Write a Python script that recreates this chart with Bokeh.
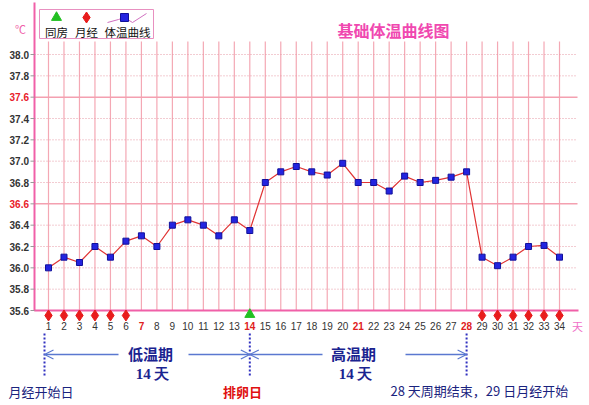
from bokeh.plotting import figure
from bokeh.models import ColumnDataSource, Range1d, Arrow, OpenHead
from bokeh.core.properties import value
from bokeh.embed import file_html
from bokeh.resources import INLINE

# ---------------- data ----------------
days = list(range(1, 35))
temps = [36.00, 36.10, 36.05, 36.20, 36.10, 36.25, 36.30, 36.20, 36.40, 36.45,
         36.40, 36.30, 36.45, 36.35, 36.80, 36.90, 36.95, 36.90, 36.87, 36.98,
         36.80, 36.80, 36.72, 36.86, 36.80, 36.82, 36.85, 36.90, 36.10, 36.02,
         36.10, 36.20, 36.21, 36.10]
menses_days = [1, 2, 3, 4, 5, 6, 29, 30, 31, 32, 33, 34]
sex_days = [14]
y_ticks = [35.6, 35.8, 36.0, 36.2, 36.4, 36.6, 36.8, 37.0, 37.2, 37.4, 37.6, 37.8, 38.0]
y_tick_labels = ["%.1f" % v for v in y_ticks]
red_y_labels = ["36.6", "37.6"]
red_days = [7, 14, 21, 28]
title_text = "基础体温曲线图"
legend_labels = ["同房", "月经", "体温曲线"]
low_phase = ["低温期", "14 天"]
high_phase = ["高温期", "14 天"]
note_start = "月经开始日"
note_ovul = "排卵日"
note_end = "28 天周期结束，29 日月经开始"
unit_x = "天"
unit_y = "℃"

# ---------------- geometry ----------------
W, H = 585, 401
ORG = 0               # screen position of canvas top-left
PXD = 15.485          # px per day
PYD = 106.667         # px per degree
X0 = 1 - (48 - ORG) / PXD
X1 = X0 + W / PXD
Y1 = 38.0 + (54 - ORG) / PYD
Y0 = Y1 - H / PYD


def dx(sx):
    return X0 + (sx - ORG) / PXD


def dy(sy):
    return Y1 - (sy - ORG) / PYD


p = figure(width=W, height=H, x_range=Range1d(X0, X1), y_range=Range1d(Y0, Y1),
           output_backend="svg", toolbar_location=None, title=None,
           x_axis_location=None, y_axis_location=None, min_border=0,
           outline_line_color=None, background_fill_color="white")
p.grid.visible = False

CJK = value("Noto Sans CJK SC")
SANS = value("Liberation Sans")

# ---------------- grid ----------------
p.segment(x0=days, y0=[35.6] * len(days), x1=days, y1=[dy(41)] * len(days),
          line_color="#f4a8b4", line_width=1.2)

hy_norm = [v for v, l in zip(y_ticks[1:], y_tick_labels[1:]) if l not in red_y_labels]
hy_red = [v for v, l in zip(y_ticks, y_tick_labels) if l in red_y_labels]
p.segment(x0=[dx(34)] * len(hy_norm), y0=hy_norm, x1=[dx(577)] * len(hy_norm), y1=hy_norm,
          line_color="#e698a4", line_width=1, line_dash="1 2")
p.segment(x0=[dx(34)] * len(hy_red), y0=hy_red, x1=[dx(577)] * len(hy_red), y1=hy_red,
          line_color="#f4a0b0", line_width=1.5)

# axes lines
p.line(x=[dx(34), dx(34), dx(578)], y=[dy(2), 35.6, 35.6], line_color="#f060a8", line_width=2)
# y tick marks
p.segment(x0=[dx(30)] * len(y_ticks), y0=y_ticks, x1=[dx(34)] * len(y_ticks), y1=y_ticks,
          line_color="#999999", line_width=1)

# y labels
ycol = ["#e8202a" if l in red_y_labels else "#333333" for l in y_tick_labels]
p.text(x=[dx(28.5)] * len(y_ticks), y=y_ticks, text=y_tick_labels, text_color=ycol,
       text_font=SANS, text_font_size="10px", text_font_style="bold",
       text_align="right", text_baseline="middle")
p.text(x=[dx(20)], y=[dy(28)], text=[unit_y], text_color="#f060a8", text_font=CJK,
       text_font_size="11px", text_align="center", text_baseline="middle")

# x labels
xcol = ["#e02020" if d in red_days else "#333333" for d in days]
xsty = ["bold" if d in red_days else "normal" for d in days]
p.text(x=days, y=[dy(325)] * len(days), text=[str(d) for d in days], text_color=xcol,
       text_font_style=xsty, text_font=SANS, text_font_size="10px",
       text_align="center", text_baseline="middle")
p.text(x=[dx(577)], y=[dy(325)], text=[unit_x], text_color="#f070c8", text_font=CJK,
       text_font_size="11px", text_align="center", text_baseline="middle")

# ---------------- data marks ----------------
src = ColumnDataSource(dict(day=days, temp=temps))
p.line("day", "temp", source=src, line_color="#e03434", line_width=1.2)
p.scatter("day", "temp", source=src, marker="square", size=6,
          fill_color="#2424e0", line_color="#10109a", line_width=1)

p.scatter(x=menses_days, y=[dy(315)] * len(menses_days), marker="diamond", size=11,
          fill_color="#e81c1c", line_color="#e81c1c")
p.scatter(x=sex_days, y=[dy(314)] * len(sex_days), marker="triangle", size=10,
          fill_color="#22c022", line_color="#22c022")

# ---------------- legend ----------------
p.quad(left=[dx(39)], right=[dx(153)], top=[dy(9)], bottom=[dy(38)],
       fill_color="white", line_color="#e890c0", line_width=1)
p.scatter(x=[dx(56)], y=[dy(17)], marker="triangle", size=10, fill_color="#22c022", line_color="#22c022")
p.scatter(x=[dx(86)], y=[dy(17)], marker="diamond", size=11, fill_color="#e81c1c", line_color="#e81c1c")
p.line(x=[dx(107), dx(118), dx(124), dx(132), dx(146)],
       y=[dy(22), dy(19), dy(17), dy(22), dy(13)], line_color="#d070c0", line_width=1)
p.scatter(x=[dx(124)], y=[dy(17)], marker="square", size=8, fill_color="#2424e0", line_color="#10109a")
p.text(x=[dx(56), dx(86), dx(127)], y=[dy(31)] * 3, text=legend_labels, text_color="#111111",
       text_font=CJK, text_font_size="11.5px", text_align="center", text_baseline="middle")

# title
p.text(x=[dx(393)], y=[dy(29)], text=[title_text], text_color="#f048b0", text_font=CJK,
       text_font_size="16px", text_font_style="bold", text_align="center", text_baseline="middle")

# ---------------- phase annotations ----------------
mark_x = [1 - 4 / PXD, 14, 28]
p.segment(x0=mark_x, y0=[dy(333)] * 3, x1=mark_x, y1=[dy(377)] * 3,
          line_color="#3030c0", line_width=2, line_dash="2 2")

ac = "#5a78d0"
for xs, xe in [(dx(118), mark_x[0]), (dx(188), 14), (dx(322), 14), (dx(405), 28)]:
    p.add_layout(Arrow(end=OpenHead(size=9, line_color=ac, line_width=1.2),
                       x_start=xs, y_start=dy(354), x_end=xe, y_end=dy(354),
                       line_color=ac, line_width=1.5))

navy = "#1a2390"
p.text(x=[dx(150)], y=[dy(353)], text=[low_phase[0]], text_color=navy, text_font=CJK,
       text_font_size="15px", text_font_style="bold", text_align="center", text_baseline="middle")
p.text(x=[dx(152)], y=[dy(373)], text=[low_phase[1]], text_color=navy, text_font=value("Liberation Serif"),
       text_font_size="15px", text_font_style="bold", text_align="center", text_baseline="middle")
p.text(x=[dx(353)], y=[dy(353)], text=[high_phase[0]], text_color=navy, text_font=CJK,
       text_font_size="15px", text_font_style="bold", text_align="center", text_baseline="middle")
p.text(x=[dx(355)], y=[dy(373)], text=[high_phase[1]], text_color=navy, text_font=value("Liberation Serif"),
       text_font_size="15px", text_font_style="bold", text_align="center", text_baseline="middle")

p.text(x=[dx(8)], y=[dy(391)], text=[note_start], text_color="#1a237e", text_font=CJK,
       text_font_size="13px", text_align="left", text_baseline="middle")
p.text(x=[dx(242)], y=[dy(391)], text=[note_ovul], text_color="#e01010", text_font=CJK,
       text_font_size="13px", text_font_style="bold", text_align="center", text_baseline="middle")
p.text(x=[dx(390)], y=[dy(390)], text=[note_end], text_color="#1a237e", text_font=CJK,
       text_font_size="13px", text_align="left", text_baseline="middle")

open("out.html", "w").write(file_html(p, INLINE))
